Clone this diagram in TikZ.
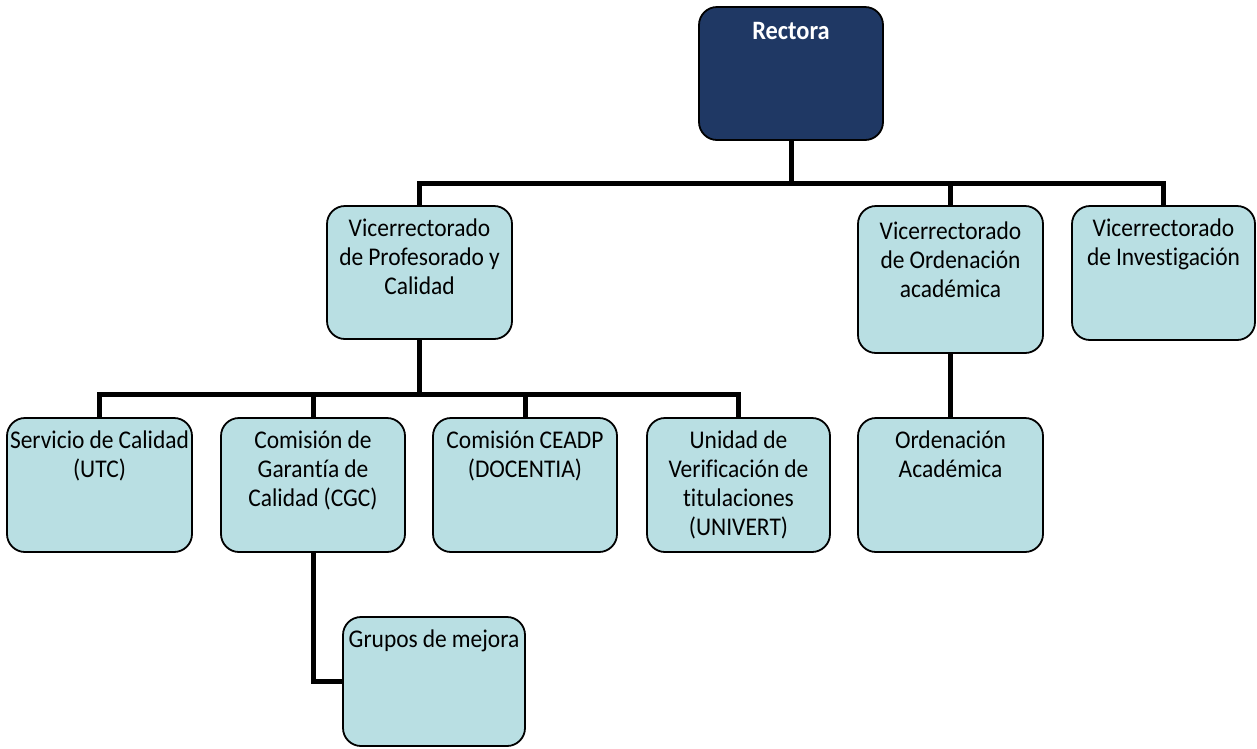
\documentclass[tikz,border=0pt]{standalone}
\usepackage{fontspec}
\setmainfont{Carlito}[Ligatures=NoCommon, WordSpace=0.95, FakeStretch=0.92]
\usetikzlibrary{backgrounds}
\definecolor{boxfill}{RGB}{185,223,227}
\definecolor{headfill}{RGB}{31,56,100}
\tikzset{
  orgbox/.style={draw=black, line width=1.8pt, rounded corners=18pt, fill=boxfill,
    inner sep=0pt, outer sep=0pt, anchor=north west},
  headbox/.style={orgbox, fill=headfill, text=white, font=\bfseries},
  conn/.style={draw=black, line width=5pt, line join=miter},
}
% \unitbox[style]{name}{left}{top}{right}{bottom}{text}
\newcommand\unitbox[7][orgbox]{%
  \node[#1] (#2) at (#3pt,-#4pt)
    {\parbox[c][\dimexpr#6pt-#4pt\relax][t]{\dimexpr#5pt-#3pt\relax}%
      {\centering\fontsize{25.5}{29}\selectfont\rule{0pt}{30pt}#7}};}
\begin{document}
\begin{tikzpicture}
\useasboundingbox (0,0) rectangle (1257pt,-748pt);

% level 1
\unitbox[headbox]{rect}{699}{7}{883}{140}{\fontsize{26.5}{29}\selectfont\rule{0pt}{32pt}Rectora}
% level 2
\unitbox{vp}{327}{206}{512}{339}{Vicerrectorado\\de Profesorado y\\Calidad}
\unitbox{vo}{858}{206}{1043}{353}{\rule{0pt}{33pt}Vicerrectorado\\de Ordenación\\académica}
\unitbox{vi}{1072}{206}{1255}{340}{Vicerrectorado\\de Investigación}
% level 3
\unitbox{sc}{7}{418}{192}{552}{Servicio de Calidad\\(UTC)}
\unitbox{cgc}{221}{418}{405}{552}{Comisión de\\Garantía de\\Calidad (CGC)}
\unitbox{ce}{433}{418}{617}{552}{Comisión CEADP\\(DOCENTIA)}
\unitbox{un}{647}{418}{830}{552}{Unidad de\\Verificación de\\titulaciones\\(UNIVERT)}
\unitbox{oa}{858}{418}{1043}{552}{Ordenación\\Académica}
% level 4
\unitbox{gm}{343}{617}{525}{746}{Grupos de mejora}

\coordinate (busA) at (0,-183pt);
\coordinate (busB) at (0,-394pt);

\begin{scope}[on background layer]
  \draw[conn] (vp.north) -- (vp.north |- busA) -- (vi.north |- busA) -- (vi.north);
  \draw[conn] (rect.south) -- (rect.south |- busA);
  \draw[conn] (vo.north) -- (vo.north |- busA);

  \draw[conn] (sc.north) -- (sc.north |- busB) -- (un.north |- busB) -- (un.north);
  \draw[conn] (vp.south) -- (vp.south |- busB);
  \draw[conn] (cgc.north) -- (cgc.north |- busB);
  \draw[conn] (ce.north) -- (ce.north |- busB);

  \draw[conn] (vo.south) -- (oa.north);
  \draw[conn] (cgc.south) |- (gm.west);
\end{scope}
\end{tikzpicture}
\end{document}
